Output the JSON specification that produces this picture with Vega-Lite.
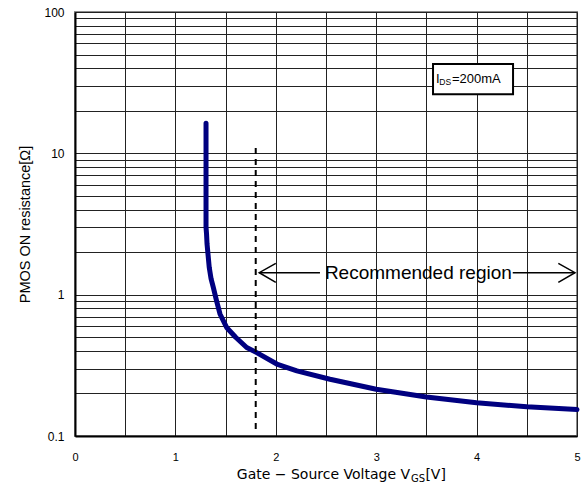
{
  "$schema": "https://vega.github.io/schema/vega-lite/v6.json",
  "width": 502,
  "height": 424,
  "autosize": {"type": "none"},
  "padding": {"left": 75, "top": 12, "right": 9, "bottom": 49},
  "background": "white",
  "config": {
    "view": {"stroke": "#8c8c8c", "strokeWidth": 2},
    "axis": {"domainColor": "black", "domainWidth": 2, "ticks": false, "grid": true, "gridColor": "#222222", "gridWidth": 1, "labelColor": "black", "labelFlush": false, "labelOverlap": false, "labelBound": false}
  },
  "datasets": {
    "curve": [
      {"i": 0, "v": 1.305, "r": 16.3},
      {"i": 1, "v": 1.305, "r": 10},
      {"i": 2, "v": 1.305, "r": 5},
      {"i": 3, "v": 1.305, "r": 3.0},
      {"i": 4, "v": 1.31, "r": 2.7},
      {"i": 5, "v": 1.315, "r": 2.29},
      {"i": 6, "v": 1.337, "r": 1.56},
      {"i": 7, "v": 1.355, "r": 1.3},
      {"i": 8, "v": 1.377, "r": 1.13},
      {"i": 9, "v": 1.41, "r": 0.905},
      {"i": 10, "v": 1.444, "r": 0.73},
      {"i": 11, "v": 1.51, "r": 0.586},
      {"i": 12, "v": 1.6, "r": 0.5},
      {"i": 13, "v": 1.71, "r": 0.423},
      {"i": 14, "v": 1.81, "r": 0.389},
      {"i": 15, "v": 2.01, "r": 0.323},
      {"i": 16, "v": 2.21, "r": 0.289},
      {"i": 17, "v": 2.54, "r": 0.252},
      {"i": 18, "v": 3.0, "r": 0.214},
      {"i": 19, "v": 3.5, "r": 0.189},
      {"i": 20, "v": 4.0, "r": 0.172},
      {"i": 21, "v": 4.5, "r": 0.161},
      {"i": 22, "v": 5.0, "r": 0.154}
    ],
    "arrows": [
      {"seg": "a", "i": 0, "v": 1.835, "r": 1.43},
      {"seg": "a", "i": 1, "v": 2.44, "r": 1.43},
      {"seg": "b", "i": 0, "v": 4.36, "r": 1.43},
      {"seg": "b", "i": 1, "v": 4.98, "r": 1.43},
      {"seg": "c", "i": 0, "v": 2.0, "r": 1.667},
      {"seg": "c", "i": 1, "v": 1.835, "r": 1.43},
      {"seg": "c", "i": 2, "v": 2.0, "r": 1.223},
      {"seg": "d", "i": 0, "v": 4.814, "r": 1.667},
      {"seg": "d", "i": 1, "v": 4.98, "r": 1.43},
      {"seg": "d", "i": 2, "v": 4.814, "r": 1.223}
    ]
  },
  "layer": [
    {
      "data": {"name": "curve"},
      "mark": {"type": "line", "color": "#000080", "strokeWidth": 5, "strokeCap": "round", "strokeJoin": "round"},
      "encoding": {
        "x": {"field": "v", "type": "quantitative", "scale": {"domain": [0, 5], "nice": false, "zero": false},
          "axis": {"title": null, "values": [0, 0.5, 1, 1.5, 2, 2.5, 3, 3.5, 4, 4.5, 5],
            "labelExpr": "datum.value % 1 === 0 ? format(datum.value, 'd') : ''",
            "labelPadding": 15, "labelFont": "Liberation Sans", "labelFontSize": 11}},
        "y": {"field": "r", "type": "quantitative", "scale": {"type": "log", "domain": [0.1, 100], "nice": false},
          "axis": {"title": "PMOS ON resistance[Ω]",
            "values": [0.1, 0.2, 0.3, 0.4, 0.5, 0.6, 0.7, 0.8, 0.9, 1, 2, 3, 4, 5, 6, 7, 8, 9, 10, 20, 30, 40, 50, 60, 70, 80, 90, 100],
            "labelExpr": "(datum.value == 0.1 || datum.value == 1 || datum.value == 10 || datum.value == 100) ? format(datum.value, '~g') : ''",
            "labelPadding": 11, "labelFont": "Liberation Sans", "labelFontSize": 12,
            "titleFont": "Liberation Sans", "titleFontSize": 14.5, "titleFontWeight": "normal", "titleColor": "black",
            "titleX": -50, "titleY": 212, "titleAngle": 270, "titleBaseline": "middle", "titleAlign": "center"}},
        "order": {"field": "i", "type": "quantitative"}
      }
    },
    {
      "data": {"values": [{"v": 1.8, "r1": 0.112, "r2": 11.4}]},
      "mark": {"type": "rule", "color": "black", "strokeWidth": 2, "strokeDash": [6, 5]},
      "encoding": {
        "x": {"field": "v", "type": "quantitative"},
        "y": {"field": "r1", "type": "quantitative"},
        "y2": {"field": "r2"}
      }
    },
    {
      "data": {"name": "arrows"},
      "mark": {"type": "line", "color": "black", "strokeWidth": 1.5},
      "encoding": {
        "x": {"field": "v", "type": "quantitative"},
        "y": {"field": "r", "type": "quantitative"},
        "detail": {"field": "seg"},
        "order": {"field": "i", "type": "quantitative"}
      }
    },
    {
      "data": {"values": [{"v": 3.42, "r": 1.43, "t": "Recommended region"}]},
      "mark": {"type": "text", "font": "Liberation Sans", "fontSize": 19, "align": "center", "baseline": "middle", "color": "black"},
      "encoding": {
        "x": {"field": "v", "type": "quantitative"},
        "y": {"field": "r", "type": "quantitative"},
        "text": {"field": "t"}
      }
    },
    {
      "data": {"values": [{"v1": 3.566, "v2": 4.363, "r1": 26.2, "r2": 42.8}]},
      "mark": {"type": "rect", "fill": "white", "stroke": "black", "strokeWidth": 2},
      "encoding": {
        "x": {"field": "v1", "type": "quantitative"},
        "x2": {"field": "v2"},
        "y": {"field": "r1", "type": "quantitative"},
        "y2": {"field": "r2"}
      }
    },
    {
      "data": {"values": [{"v": 3.595, "r": 33.6, "t": "I"}, {"v": 3.755, "r": 33.6, "t": "=200mA"}]},
      "mark": {"type": "text", "font": "Liberation Sans", "fontSize": 13, "align": "left", "baseline": "middle", "color": "black"},
      "encoding": {
        "x": {"field": "v", "type": "quantitative"},
        "y": {"field": "r", "type": "quantitative"},
        "text": {"field": "t"}
      }
    },
    {
      "data": {"values": [{"v": 3.628, "r": 31.8, "t": "DS"}]},
      "mark": {"type": "text", "font": "Liberation Sans", "fontSize": 8.5, "align": "left", "baseline": "middle", "color": "black"},
      "encoding": {
        "x": {"field": "v", "type": "quantitative"},
        "y": {"field": "r", "type": "quantitative"},
        "text": {"field": "t"}
      }
    },
    {
      "data": {"values": [{"v": 3.337, "r": 0.0534, "t": "Gate − Source Voltage V"}]},
      "mark": {"type": "text", "font": "DejaVu Sans", "fontSize": 14, "align": "right", "baseline": "middle", "color": "black", "clip": false},
      "encoding": {
        "x": {"field": "v", "type": "quantitative"},
        "y": {"field": "r", "type": "quantitative"},
        "text": {"field": "t"}
      }
    },
    {
      "data": {"values": [{"v": 3.49, "r": 0.0534, "t": "[V]"}]},
      "mark": {"type": "text", "font": "DejaVu Sans", "fontSize": 14, "align": "left", "baseline": "middle", "color": "black", "clip": false},
      "encoding": {
        "x": {"field": "v", "type": "quantitative"},
        "y": {"field": "r", "type": "quantitative"},
        "text": {"field": "t"}
      }
    },
    {
      "data": {"values": [{"v": 3.347, "r": 0.0497, "t": "GS"}]},
      "mark": {"type": "text", "font": "DejaVu Sans", "fontSize": 10, "align": "left", "baseline": "middle", "color": "black", "clip": false},
      "encoding": {
        "x": {"field": "v", "type": "quantitative"},
        "y": {"field": "r", "type": "quantitative"},
        "text": {"field": "t"}
      }
    }
  ]
}
